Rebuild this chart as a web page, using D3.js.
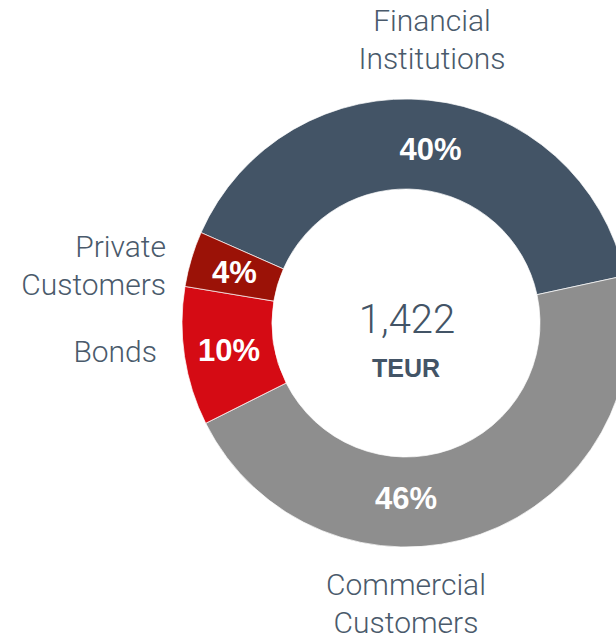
<!DOCTYPE html>
<html>
<head>
<meta charset="utf-8">
<script src="https://cdn.jsdelivr.net/npm/d3@7"></script>
<style>
  html, body { margin: 0; padding: 0; background: #fff; overflow: hidden; }
  svg { display: block; }
</style>
</head>
<body>
<svg id="chart" width="616" height="637"></svg>
<script>
// ---- data ----
const categories = ["Financial Institutions", "Commercial Customers", "Bonds", "Private Customers"];
const labelLines = [["Financial", "Institutions"], ["Commercial", "Customers"], ["Bonds"], ["Private", "Customers"]];
const shares = [40, 46, 10, 4];
const shareLabels = ["40%", "46%", "10%", "4%"];
const totalValue = "1,422";
const totalUnit = "TEUR";
const colors = ["#435466", "#8e8e8e", "#d50b14", "#9b1207"];

// ---- layout ----
const svg = d3.select("#chart");
const cx = 406, cy = 323, rOuter = 224, rInner = 134;
const g = svg.append("g").attr("transform", `translate(${cx},${cy})`);

const deg = Math.PI / 180;
const pie = d3.pie().sort(null).value(d => d).startAngle(-66.2 * deg).endAngle((360 - 66.2) * deg);
const arcs = pie(shares);
const arc = d3.arc().innerRadius(rInner).outerRadius(rOuter);

g.selectAll("path.slice")
  .data(arcs)
  .enter().append("path")
  .attr("class", "slice")
  .attr("d", arc)
  .attr("fill", (d, i) => colors[i])
  .attr("stroke", "#fff")
  .attr("stroke-width", 0.7);

// percentage labels
const labelAngle = [8, 180, null, null];
const labelRadius = [176, 175, null, null];
g.selectAll("text.pct")
  .data(arcs)
  .enter().append("text")
  .attr("class", "pct")
  .attr("transform", (d, i) => {
    let x, y;
    if (labelAngle[i] !== null) {
      const a = labelAngle[i] * deg;
      x = labelRadius[i] * Math.sin(a);
      y = -labelRadius[i] * Math.cos(a);
    } else {
      [x, y] = arc.centroid(d);
    }
    return `translate(${x},${y})`;
  })
  .attr("text-anchor", "middle")
  .attr("dy", "0.36em")
  .attr("fill", "#fff")
  .attr("font-family", "Liberation Sans, Arial, sans-serif")
  .attr("font-weight", "bold")
  .attr("font-size", 31)
  .text((d, i) => shareLabels[i]);

// centre
svg.append("text")
  .attr("x", 407).attr("y", 333)
  .attr("text-anchor", "middle")
  .attr("fill", "#435466")
  .attr("font-family", "Roboto, Liberation Sans, sans-serif")
  .attr("font-weight", 300)
  .attr("font-size", 40)
  .text(totalValue);
svg.append("text")
  .attr("x", 406).attr("y", 377)
  .attr("text-anchor", "middle")
  .attr("fill", "#435466")
  .attr("font-family", "Liberation Sans, Arial, sans-serif")
  .attr("font-weight", "bold")
  .attr("font-size", 25)
  .text(totalUnit);

// outer category labels
const outer = [
  { x: 432, y: 31, anchor: "middle" },
  { x: 406, y: 595, anchor: "middle" },
  { x: 157, y: 362, anchor: "end" },
  { x: 166, y: 257, anchor: "end" }
];
categories.forEach((c, i) => {
  const t = svg.append("text")
    .attr("x", outer[i].x).attr("y", outer[i].y)
    .attr("text-anchor", outer[i].anchor)
    .attr("fill", "#4a5a6b")
    .attr("font-family", "Roboto, Liberation Sans, sans-serif")
    .attr("font-weight", 300)
    .attr("font-size", 30);
  labelLines[i].forEach((line, j) => {
    t.append("tspan").attr("x", outer[i].x).attr("dy", j === 0 ? 0 : 38).text(line);
  });
});
</script>
</body>
</html>
